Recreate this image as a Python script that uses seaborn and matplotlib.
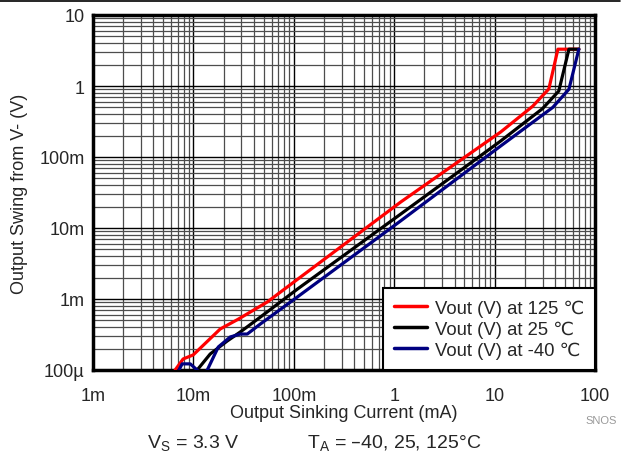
import numpy as np
import pandas as pd
import matplotlib
matplotlib.use("Agg")
import matplotlib.pyplot as plt
from matplotlib.lines import Line2D
from matplotlib.ticker import LogLocator, FixedLocator, FixedFormatter, NullFormatter
import seaborn as sns

# ---- data ----
labels = ["Vout (V) at 125 \u2103", "Vout (V) at 25 \u2103", "Vout (V) at -40 \u2103"]
colors = ["#ff0000", "#000000", "#000080"]

i_125 = [0.00658, 0.0079, 0.00995, 0.0185, 0.028, 0.0546, 0.1038, 1.16, 11.5, 24.0, 34.7, 42.7, 69.0]
v_125 = [1.0e-4, 1.43e-4, 1.63e-4, 3.78e-4, 5.2e-4, 9.1e-4, 1.8e-3, 0.0232, 0.225, 0.52, 0.91, 3.3, 3.3]

i_25 = [0.0109, 0.0147, 0.0217, 0.0293, 0.0465, 0.1087, 1.16, 11.5, 30.0, 43.6, 55.0, 69.0]
v_25 = [1.0e-4, 1.68e-4, 2.56e-4, 3.43e-4, 5.57e-4, 1.38e-3, 0.0157, 0.168, 0.48, 0.85, 3.3, 3.3]

i_m40 = [0.0066, 0.00773, 0.0093, 0.0109, 0.0123, 0.01375, 0.0177, 0.0233, 0.0293, 0.0344, 0.0465, 0.1087, 1.16, 11.5, 38.0, 55.0, 69.0]
v_m40 = [8.0e-5, 1.22e-4, 1.22e-4, 1.0e-4, 8.0e-5, 1.0e-4, 2.11e-4, 2.92e-4, 3.21e-4, 3.21e-4, 4.45e-4, 1.07e-3, 0.0126, 0.143, 0.50, 0.90, 3.3]

x_ticks = [1e-3, 1e-2, 1e-1, 1, 10, 100]
x_ticklabels = ["1m", "10m", "100m", "1", "10", "100"]
y_ticks = [1e-4, 1e-3, 1e-2, 1e-1, 1, 10]
y_ticklabels = ["100\u00b5", "1m", "10m", "100m", "1", "10"]

frames = []
for lab, xs, ys in zip(labels, [i_125, i_25, i_m40], [v_125, v_25, v_m40]):
    frames.append(pd.DataFrame({"I": xs, "V": ys, "series": lab}))
df = pd.concat(frames, ignore_index=True)

sns.set_style("white")
plt.rcParams["font.family"] = ["Liberation Sans", "DejaVu Sans"]

fig = plt.figure(figsize=(6.3, 4.6), dpi=100)
ax = fig.add_axes([93 / 630, 1 - 371 / 460, (595 - 93) / 630, (371 - 16) / 460])

sns.lineplot(data=df, x="I", y="V", hue="series", hue_order=labels,
             palette=colors, sort=False, estimator=None, units="series",
             linewidth=2.3, ax=ax, zorder=5)

ax.set_xscale("log")
ax.set_yscale("log")
ax.set_xlim(1e-3, 100)
ax.set_ylim(1e-4, 10)

ax.xaxis.set_major_locator(FixedLocator(x_ticks))
ax.xaxis.set_major_formatter(FixedFormatter(x_ticklabels))
ax.yaxis.set_major_locator(FixedLocator(y_ticks))
ax.yaxis.set_major_formatter(FixedFormatter(y_ticklabels))
ax.xaxis.set_minor_locator(LogLocator(base=10, subs=np.arange(2, 10), numticks=20))
ax.yaxis.set_minor_locator(LogLocator(base=10, subs=np.arange(2, 10), numticks=20))
ax.xaxis.set_minor_formatter(NullFormatter())
ax.yaxis.set_minor_formatter(NullFormatter())

ax.grid(True, which="major", color="black", linewidth=1.0)
ax.grid(True, which="minor", color="0.3", linewidth=0.9)
ax.set_axisbelow(True)
ax.tick_params(which="both", length=0, labelsize=13)
ax.tick_params(axis="x", pad=12)
ax.tick_params(axis="y", pad=6)

for s in ax.spines.values():
    s.set_visible(True)
    s.set_color("black")
    s.set_linewidth(2.5)

ax.set_xlabel("Output Sinking Current (mA)", fontsize=13, labelpad=0)
ax.set_ylabel("Output Swing from V- (V)", fontsize=13, labelpad=8)

leg = ax.legend(loc="lower right", borderaxespad=0.0, fontsize=13.3,
                frameon=True, fancybox=False, handlelength=1.8,
                labelspacing=0.2, borderpad=0.6, handletextpad=0.4)
leg.get_frame().set_edgecolor("black")
leg.get_frame().set_linewidth(1.5)
leg.get_frame().set_alpha(1)
for h in leg.get_lines():
    h.set_linewidth(2.5)
leg.set_zorder(10)

fig.add_artist(Line2D([0, 620 / 630], [1 - 2 / 460, 1 - 2 / 460], color="black", linewidth=1.2))
fig.text(601 / 630, 1 - 421 / 460, "SNOS", color="0.6", fontsize=8, ha="center", va="center")
fig.text(147 / 630, 1 - 444 / 460, r"V$_\mathregular{S}$ = 3.3 V", fontsize=14, ha="left", va="center")
fig.text(307 / 630, 1 - 444 / 460, "T$_\\mathregular{A}$ = \u201340, 25, 125\u00b0C",
         fontsize=14, ha="left", va="center")

fig.savefig("out.png", dpi=100)
